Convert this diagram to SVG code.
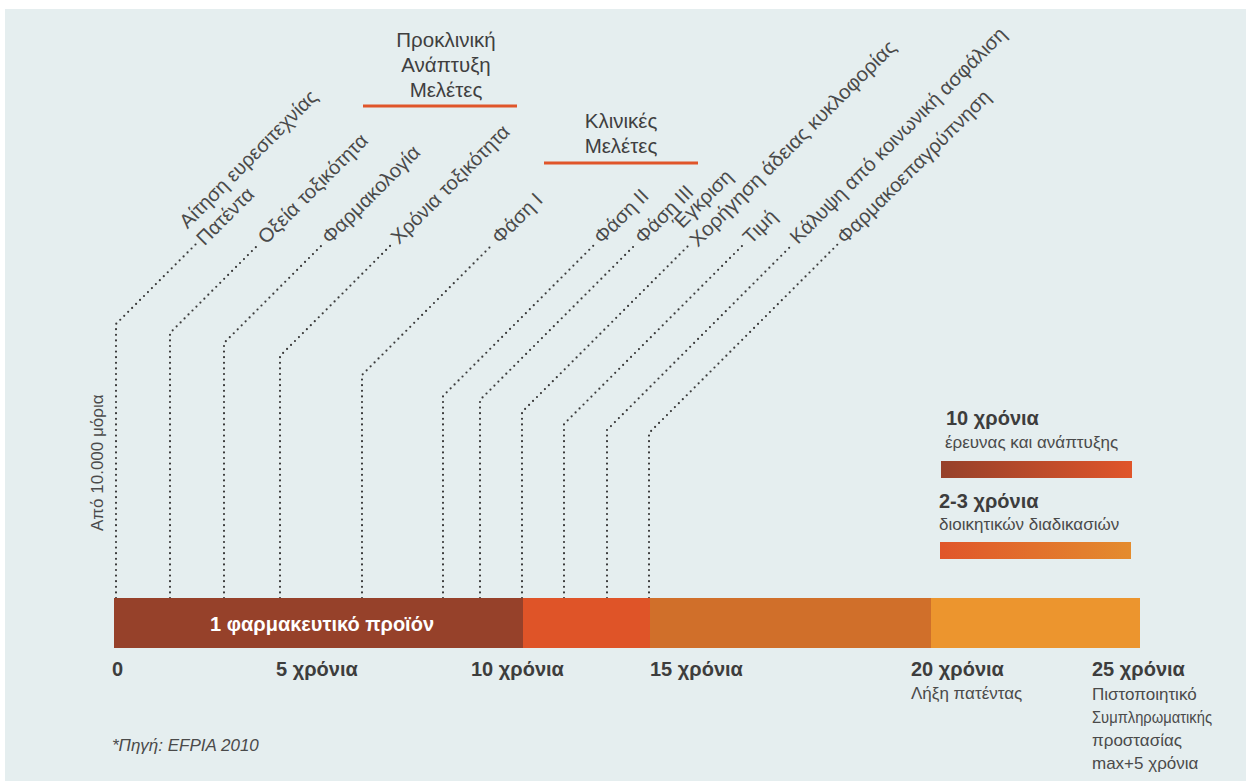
<svg xmlns="http://www.w3.org/2000/svg" width="1246" height="781" viewBox="0 0 1246 781">
<defs>
<linearGradient id="g1" x1="0" x2="1" y1="0" y2="0"><stop offset="0" stop-color="#96412A"/><stop offset="1" stop-color="#E0552A"/></linearGradient>
<linearGradient id="g2" x1="0" x2="1" y1="0" y2="0"><stop offset="0" stop-color="#E0552A"/><stop offset="1" stop-color="#E48C2E"/></linearGradient>
<style>
.lbl{font-family:"Liberation Sans",Arial,sans-serif;font-size:20px;fill:#4a4a4a}
.hd{font-family:"Liberation Sans",Arial,sans-serif;font-size:20.5px;fill:#3f3f3f;text-anchor:middle}
.ax{font-family:"Liberation Sans",Arial,sans-serif;font-size:20px;font-weight:bold;fill:#3d3d3d}
.sm{font-family:"Liberation Sans",Arial,sans-serif;font-size:17px;fill:#4a4a4a}
.dot{fill:none;stroke:#3a3a3a;stroke-width:2.2;stroke-linecap:round;stroke-dasharray:0 5.6}
.ul{stroke:#E0552A;stroke-width:3}
</style>
</defs>
<rect x="0" y="0" width="1246" height="781" fill="#ffffff"/>
<rect x="5" y="9" width="1241" height="772" fill="#E5EEEF"/>

<g id="headings">
<text class="hd" x="446" y="47">Προκλινική</text>
<text class="hd" x="446" y="72">Ανάπτυξη</text>
<text class="hd" x="446" y="97">Μελέτες</text>
<line class="ul" x1="363" y1="106" x2="517" y2="106"/>
<text class="hd" x="621" y="128">Κλινικές</text>
<text class="hd" x="621" y="153">Μελέτες</text>
<line class="ul" x1="544" y1="163" x2="698" y2="163"/>
</g>

<g id="connectors">
<polyline class="dot" points="116,598 116,324 196,244"/>
<polyline class="dot" points="170,598 170,333 259,244"/>
<polyline class="dot" points="224,598 224,343 323,244"/>
<polyline class="dot" points="280,598 280,356 392,244"/>
<polyline class="dot" points="362,598 362,375 493,244"/>
<polyline class="dot" points="443,598 443,396 595,244"/>
<polyline class="dot" points="480,598 480,400 636,244"/>
<polyline class="dot" points="522,598 522,412 690,244"/>
<polyline class="dot" points="564,598 564,424 744,244"/>
<polyline class="dot" points="607,598 607,430 793,244"/>
<polyline class="dot" points="649,598 649,433 838,244"/>
</g>

<g id="labels">
<g id="n-patent" transform="translate(203,245) rotate(-45)"><text class="lbl" x="0" y="-22">Αίτηση ευρεσιτεχνίας</text><text class="lbl" x="0" y="2">Πατέντα</text></g>
<g id="n-oxeia" transform="translate(266,245) rotate(-45)"><text class="lbl">Οξεία τοξικότητα</text></g>
<g id="n-farmakologia" transform="translate(330,245) rotate(-45)"><text class="lbl">Φαρμακολογία</text></g>
<g id="n-xronia" transform="translate(399,245) rotate(-45)"><text class="lbl">Χρόνια τοξικότητα</text></g>
<g id="n-fasi1" transform="translate(500,245) rotate(-45)"><text class="lbl">Φάση I</text></g>
<g id="n-fasi2" transform="translate(602,245) rotate(-45)"><text class="lbl">Φάση II</text></g>
<g id="n-fasi3" transform="translate(643,245) rotate(-45)"><text class="lbl">Φάση III</text></g>
<g id="n-egkrisi" transform="translate(695,245) rotate(-45)"><text class="lbl" x="0" y="-20">Έγκριση</text><text class="lbl" x="0" y="4" textLength="282" lengthAdjust="spacingAndGlyphs">Χορήγηση άδειας κυκλοφορίας</text></g>
<g id="n-timi" transform="translate(751,245) rotate(-45)"><text class="lbl">Τιμή</text></g>
<g id="n-kalypsi" transform="translate(798,245) rotate(-45)"><text class="lbl">Κάλυψη από κοινωνική ασφάλιση</text></g>
<g id="n-farmakoep" transform="translate(845,245) rotate(-45)"><text class="lbl">Φαρμακοεπαγρύπνηση</text></g>
</g>

<g id="n-molecules"><text class="sm" transform="translate(103,531) rotate(-90)">Από 10.000 μόρια</text></g>

<g id="n-bar">
<rect x="114" y="598" width="409" height="50" fill="#96412A"/>
<rect x="523" y="598" width="127" height="50" fill="#DF5428"/>
<rect x="650" y="598" width="281" height="50" fill="#D06F2A"/>
<rect x="931" y="598" width="209" height="50" fill="#EC952E"/>
<text x="322" y="631" text-anchor="middle" style="font-family:'Liberation Sans',Arial,sans-serif;font-size:20px;font-weight:bold;fill:#ffffff">1 φαρμακευτικό προϊόν</text>
</g>

<g id="axis">
<text class="ax" x="112" y="676">0</text>
<text class="ax" x="276" y="676">5 χρόνια</text>
<text class="ax" x="471" y="676">10 χρόνια</text>
<text class="ax" x="650" y="676">15 χρόνια</text>
<text class="ax" x="911" y="676">20 χρόνια</text>
<text class="sm" x="911" y="699">Λήξη πατέντας</text>
<text class="ax" x="1092" y="676">25 χρόνια</text>
<text class="sm" x="1092" y="700">Πιστοποιητικό</text>
<text class="sm" x="1092" y="723" textLength="120" lengthAdjust="spacingAndGlyphs">Συμπληρωματικής</text>
<text class="sm" x="1092" y="746">προστασίας</text>
<text class="sm" x="1092" y="769">max+5 χρόνια</text>
</g>

<g id="legend">
<text class="ax" x="946" y="425">10 χρόνια</text>
<text class="sm" x="945" y="448">έρευνας και ανάπτυξης</text>
<rect x="941" y="461" width="191" height="17" fill="url(#g1)"/>
<text class="ax" x="939" y="508">2-3 χρόνια</text>
<text class="sm" x="939" y="530">διοικητικών διαδικασιών</text>
<rect x="940" y="542" width="191" height="17" fill="url(#g2)"/>
</g>

<g id="source"><text class="sm" x="112" y="751" font-style="italic">*Πηγή: EFPIA 2010</text></g>
</svg>
